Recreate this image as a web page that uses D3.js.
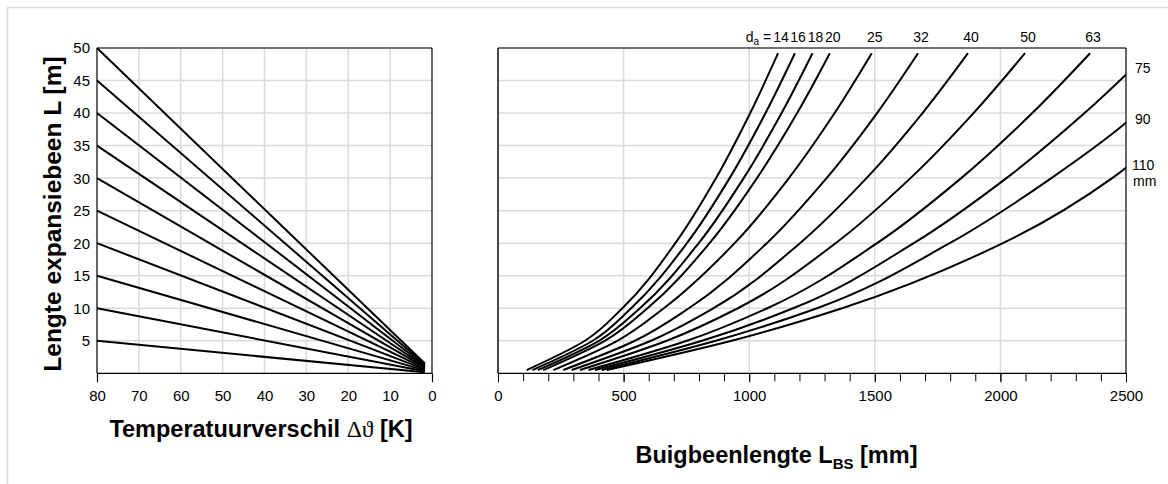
<!DOCTYPE html>
<html><head><meta charset="utf-8">
<script src="https://cdn.jsdelivr.net/npm/d3@7"></script>
<style>
html,body{margin:0;padding:0;background:#fff;}
svg text{font-family:"Liberation Sans",Arial,sans-serif;fill:#000;}
</style></head>
<body>
<svg id="c" width="1168" height="484"></svg>
<script>
// ---- Data ----
const deltaTicks = [80,70,60,50,40,30,20,10,0];
const deltaEndTicks = [80,0];
const lengthTicks = [5,10,15,20,25,30,35,40,45,50];
const startDelta = 80;
const startLengths = [5,10,15,20,25,30,35,40,45,50];
const endDelta = 1.7;
const endLengths = [0.15,0.3,0.45,0.6,0.75,0.9,1.05,1.2,1.35,1.5];

const bsTicks = [0,500,1000,1500,2000,2500];
const bsMinorTicks = [0,100,200,300,400,500,600,700,800,900,1000,1100,1200,1300,1400,1500,1600,1700,1800,1900,2000,2100,2200,2300,2400,2500];
const diameters = [14,16,18,20,25,32,40,50,63,75,90,110];
const levels = [0.5,5,10,20,30,40,49.2];
const bs14  = [114,346,495,706,868,1004,1115];
const bs16  = [137,377,530,752,922,1065,1182];
const bs18  = [158,402,565,799,978,1129,1252];
const bs20  = [180,425,595,842,1031,1191,1321];
const bs25  = [220,475,660,942,1158,1340,1488];
const bs32  = [260,545,760,1070,1308,1509,1672];
const bs40  = [293,609,858,1202,1467,1690,1871];
const bs50  = [326,672,955,1344,1642,1893,2098];
const bs63  = [360,752,1072,1509,1844,2127,2357];
const bs75  = [386,812,1175,1655,2024,2335,2588];
const bs90  = [413,867,1270,1798,2203,2545,2760];
const bs110 = [433,930,1370,2010,2445,2732,2950];
const bsSeries = [bs14,bs16,bs18,bs20,bs25,bs32,bs40,bs50,bs63,bs75,bs90,bs110];
const topLabels = ["14","16","18","20","25","32","40","50","63"];
const sideLabels = ["75","90","110"];

// ---- Layout ----
const svg = d3.select("#c");
const gridC = "#dadada";
const yTop = 48, yBot = 373.3;
const L = {x0:97, x1:432};
const R = {x0:498, x1:1126};

svg.append("rect").attr("x",7.5).attr("y",7.5).attr("width",1300).attr("height",600)
  .attr("fill","none").attr("stroke","#dcdcdc").attr("stroke-width",1.5);

const y = d3.scaleLinear().domain([0,50]).range([yBot,yTop]);
const xL = d3.scaleLinear().domain([80,0]).range([L.x0,L.x1]);
const xR = d3.scaleLinear().domain([0,2500]).range([R.x0,R.x1]);

// ---- Left chart ----
const gl = svg.append("g");
gl.append("g").selectAll("line").data(lengthTicks).join("line")
  .attr("x1",L.x0).attr("x2",L.x1).attr("y1",d=>y(d)).attr("y2",d=>y(d))
  .attr("stroke",gridC).attr("stroke-width",1.5);
gl.append("g").selectAll("line").data(deltaTicks.filter(d=>d>0&&d<80)).join("line")
  .attr("x1",d=>xL(d)).attr("x2",d=>xL(d)).attr("y1",yTop).attr("y2",yBot)
  .attr("stroke",gridC).attr("stroke-width",1.5);
gl.append("line").attr("x1",L.x0).attr("x2",L.x1).attr("y1",yTop).attr("y2",yTop).attr("stroke","#000").attr("stroke-width",1.2);
gl.append("line").attr("x1",L.x1).attr("x2",L.x1).attr("y1",yTop).attr("y2",yBot).attr("stroke","#000").attr("stroke-width",1.2);
gl.append("line").attr("x1",L.x0).attr("x2",L.x0).attr("y1",yTop).attr("y2",yBot).attr("stroke","#000").attr("stroke-width",1.2);
const axL = d3.axisBottom(xL).tickValues(deltaTicks).tickSize(0).tickPadding(17);
const gax = gl.append("g").attr("transform",`translate(0,${yBot})`).call(axL);
gax.select(".domain").attr("stroke","#000").attr("stroke-width",1.2).attr("d",`M${L.x0},0H${L.x1}`);
gax.selectAll("text").attr("font-size",15).attr("font-family","Liberation Sans, Arial");
const axLend = d3.axisBottom(xL).tickValues(deltaEndTicks).tickSize(9).tickFormat("");
const gae = gl.append("g").attr("transform",`translate(0,${yBot})`).call(axLend);
gae.select(".domain").remove();
gae.selectAll(".tick line").attr("stroke","#000").attr("stroke-width",1.2);
gl.append("g").selectAll("text").data(lengthTicks).join("text")
  .attr("x",L.x0-7).attr("y",d=>y(d)).attr("dy","0.36em").attr("text-anchor","end")
  .attr("font-size",15).text(d=>d);
const linesL = startLengths.map((v,i)=>[[startDelta,v],[endDelta,endLengths[i]]]);
gl.append("g").selectAll("path").data(linesL).join("path")
  .attr("d",d3.line().x(d=>xL(d[0])).y(d=>y(d[1])))
  .attr("fill","none").attr("stroke","#000").attr("stroke-width",2);
gl.append("text").attr("transform",`translate(61,214) rotate(-90)`).attr("text-anchor","middle")
  .attr("font-size",24.5).attr("font-weight","bold").text("Lengte expansiebeen L [m]");
const t1 = gl.append("text").attr("x",261).attr("y",437).attr("text-anchor","middle")
  .attr("font-size",23.5).attr("font-weight","bold");
t1.append("tspan").text("Temperatuurverschil ");
t1.append("tspan").attr("font-weight","normal").attr("font-family","Liberation Serif, serif").text("Δϑ");
t1.append("tspan").text(" [K]");

// ---- Right chart ----
const gr = svg.append("g");
gr.append("g").selectAll("line").data(lengthTicks).join("line")
  .attr("x1",R.x0).attr("x2",R.x1).attr("y1",d=>y(d)).attr("y2",d=>y(d))
  .attr("stroke",gridC).attr("stroke-width",1.5);
gr.append("g").selectAll("line").data(bsTicks.filter(d=>d>0&&d<2500)).join("line")
  .attr("x1",d=>xR(d)).attr("x2",d=>xR(d)).attr("y1",yTop).attr("y2",yBot)
  .attr("stroke",gridC).attr("stroke-width",1.5);
gr.append("line").attr("x1",R.x0).attr("x2",R.x1).attr("y1",yTop).attr("y2",yTop).attr("stroke","#000").attr("stroke-width",1.2);
gr.append("line").attr("x1",R.x1).attr("x2",R.x1).attr("y1",yTop).attr("y2",yBot).attr("stroke","#000").attr("stroke-width",1.2);
gr.append("line").attr("x1",R.x0).attr("x2",R.x0).attr("y1",yTop).attr("y2",yBot).attr("stroke","#333").attr("stroke-width",1.8);
const axMinor = d3.axisBottom(xR).tickValues(bsMinorTicks).tickSize(8).tickFormat("");
const gm = gr.append("g").attr("transform",`translate(0,${yBot})`).call(axMinor);
gm.select(".domain").attr("stroke","#000").attr("stroke-width",1.2).attr("d",`M${R.x0},0H${R.x1}`);
gm.selectAll(".tick line").attr("stroke","#000");
const axR = d3.axisBottom(xR).tickValues(bsTicks).tickSize(9).tickPadding(8).tickFormat(d3.format("d"));
const gx = gr.append("g").attr("transform",`translate(0,${yBot})`).call(axR);
gx.select(".domain").remove();
gx.selectAll(".tick line").attr("stroke","#000");
gx.selectAll("text").attr("font-size",15).attr("font-family","Liberation Sans, Arial");

gr.append("clipPath").attr("id","clipR").append("rect")
  .attr("x",R.x0).attr("y",yTop-10).attr("width",R.x1-R.x0).attr("height",yBot-yTop+20);
const curveData = bsSeries.map(s=>s.map((v,i)=>[v,levels[i]]).reverse());
gr.append("g").attr("clip-path","url(#clipR)").selectAll("path").data(curveData).join("path")
  .attr("d",d3.line().x(d=>xR(d[0])).y(d=>y(d[1])).curve(d3.curveMonotoneY))
  .attr("fill","none").attr("stroke","#000").attr("stroke-width",2);

const topG = gr.append("g");
topLabels.forEach((t,i)=>{
  const xe = xR(bsSeries[i][bsSeries[i].length-1]);
  topG.append("text").attr("x",xe+3).attr("y",42).attr("text-anchor","middle").attr("font-size",14).text(t);
});
const da = topG.append("text").attr("x",xR(bs14[bs14.length-1])-7).attr("y",42).attr("text-anchor","end").attr("font-size",14);
da.append("tspan").text("d");
da.append("tspan").attr("font-size",10).attr("dy",3).text("a");
da.append("tspan").attr("dy",-3).text(" =");
const sideY = [73,124,170];
sideLabels.forEach((t,i)=>{
  gr.append("text").attr("x",i===2?1132:1135).attr("y",sideY[i]).attr("font-size",14).text(t);
});
gr.append("text").attr("x",1133).attr("y",186).attr("font-size",14).text("mm");

const t2 = gr.append("text").attr("x",776.5).attr("y",463).attr("text-anchor","middle")
  .attr("font-size",23.5).attr("font-weight","bold");
t2.append("tspan").text("Buigbeenlengte L");
t2.append("tspan").attr("font-size",15).attr("dy",6).text("BS");
t2.append("tspan").attr("dy",-6).text(" [mm]");
</script>
</body></html>
